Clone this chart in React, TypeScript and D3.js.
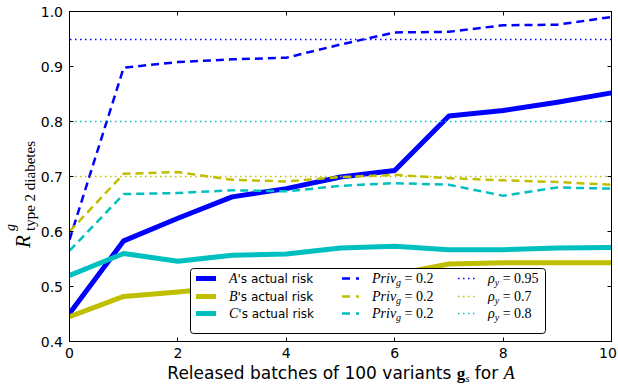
import React from "react";
import * as d3 from "d3";

// released batches (x)
const batches = [0, 1, 2, 3, 4, 5, 6, 7, 8, 9, 10];

// actual risk of each relative
const riskA = [0.451, 0.583, 0.624, 0.663, 0.678, 0.699, 0.711, 0.81, 0.82, 0.835, 0.852];
const riskB = [0.445, 0.482, 0.49, 0.5, 0.507, 0.515, 0.522, 0.541, 0.543, 0.543, 0.543];
const riskC = [0.52, 0.56, 0.546, 0.557, 0.559, 0.57, 0.573, 0.567, 0.567, 0.57, 0.571];

// privacy curves (Priv_g = 0.2)
const privA = [0.585, 0.898, 0.908, 0.913, 0.916, 0.94, 0.962, 0.963, 0.975, 0.976, 0.99];
const privB = [0.6, 0.705, 0.708, 0.694, 0.691, 0.699, 0.703, 0.697, 0.693, 0.69, 0.685];
const privC = [0.565, 0.668, 0.67, 0.675, 0.673, 0.683, 0.688, 0.685, 0.665, 0.68, 0.678];

// rho_y levels
const rhoLevels = [0.95, 0.7, 0.8];
const rhoLabels = ["0.95", "0.7", "0.8"];

const xTicks = [0, 2, 4, 6, 8, 10];
const yTicks = [0.4, 0.5, 0.6, 0.7, 0.8, 0.9, 1.0];

const colors = ["#0000ff", "#bfbf00", "#00bfbf"];
const names = ["A", "B", "C"];

const W = 618;
const H = 388;
const left = 69.5, right = 611.5, top = 11.5, bottom = 341.5;

const serif = "'Liberation Serif', 'DejaVu Serif', serif";
const sans = "'DejaVu Sans', sans-serif";

export default function App() {
  const x = d3.scaleLinear().domain([0, 10]).range([left, right]);
  const y = d3.scaleLinear().domain([0.4, 1.0]).range([bottom, top]);
  const line = d3
    .line<number>()
    .x((d, i) => x(batches[i]))
    .y((d) => y(d));
  const snap = (v: number) => Math.round(v - 0.5) + 0.5;

  const risks = [riskA, riskB, riskC];
  const privs = [privA, privB, privC];

  // legend layout
  const legRows = [278.5, 296.5, 313.5];
  const colX = [196, 342, 458];
  const handleLen = 20;

  return (
    <svg
      width={W}
      height={H}
      style={{ position: "absolute", left: 0, top: 0, background: "#fff" }}
    >
      <defs>
        <clipPath id="plot">
          <rect x={left} y={top} width={right - left} height={bottom - top} />
        </clipPath>
      </defs>
      <rect x={0} y={0} width={W} height={H} fill="#fff" />

      <g clipPath="url(#plot)" fill="none">
        {risks.map((r, i) => (
          <path key={"r" + i} d={line(r) || ""} stroke={colors[i]} strokeWidth={5} strokeLinejoin="round" />
        ))}
        {privs.map((r, i) => (
          <path key={"p" + i} d={line(r) || ""} stroke={colors[i]} strokeWidth={2.5} strokeDasharray="8,5" />
        ))}
        {rhoLevels.map((v, i) => (
          <line key={"h" + i} x1={left + 0.5} x2={right} y1={snap(y(v))} y2={snap(y(v))} stroke={colors[i]} strokeWidth={1.4} strokeDasharray="1.5,3.5" />
        ))}
      </g>

      {/* frame and ticks */}
      <rect x={left} y={top} width={right - left} height={bottom - top} fill="none" stroke="#000" strokeWidth={1} />
      {xTicks.map((t) => (
        <g key={"xt" + t}>
          <line x1={snap(x(t))} x2={snap(x(t))} y1={bottom} y2={bottom - 4} stroke="#000" />
          <line x1={snap(x(t))} x2={snap(x(t))} y1={top} y2={top + 4} stroke="#000" />
          <text x={Math.min(x(t), W - 10)} y={358} textAnchor="middle" fontFamily={sans} fontSize={14}>
            {t}
          </text>
        </g>
      ))}
      {yTicks.map((t) => (
        <g key={"yt" + t}>
          <line x1={left} x2={left + 4} y1={snap(y(t))} y2={snap(y(t))} stroke="#000" />
          <line x1={right} x2={right - 4} y1={snap(y(t))} y2={snap(y(t))} stroke="#000" />
          <text x={63} y={y(t) + 5} textAnchor="end" fontFamily={sans} fontSize={14}>
            {t.toFixed(1)}
          </text>
        </g>
      ))}

      {/* legend */}
      <rect x={190.5} y={268.5} width={355} height={65} rx={3} fill="#fff" stroke="#000" strokeWidth={1} />
      {names.map((n, i) => (
        <g key={"lg" + i}>
          <line x1={colX[0]} x2={colX[0] + handleLen} y1={legRows[i]} y2={legRows[i]} stroke={colors[i]} strokeWidth={5} />
          <text x={229} y={legRows[i] + 4} fontSize={12} fontFamily={sans}>
            <tspan fontFamily={serif} fontStyle="italic" fontSize={14}>{n}</tspan>
            's actual risk
          </text>
          <line x1={colX[1]} x2={colX[1] + handleLen} y1={legRows[i]} y2={legRows[i]} stroke={colors[i]} strokeWidth={2.5} strokeDasharray="8,6,3,20" />
          <text x={372} y={legRows[i] + 4} fontSize={14} fontFamily={serif}>
            <tspan fontStyle="italic">Priv</tspan>
            <tspan fontStyle="italic" fontSize={10} dy={3}>g</tspan>
            <tspan dy={-3}>{" = 0.2"}</tspan>
          </text>
          <line x1={colX[2]} x2={colX[2] + handleLen} y1={legRows[i]} y2={legRows[i]} stroke={colors[i]} strokeWidth={1.4} strokeDasharray="1.5,3.5" />
          <text x={488} y={legRows[i] + 4} fontSize={14} fontFamily={serif}>
            <tspan fontStyle="italic">ρ</tspan>
            <tspan fontStyle="italic" fontSize={10} dy={3}>y</tspan>
            <tspan dy={-3}>{" = " + rhoLabels[i]}</tspan>
          </text>
        </g>
      ))}

      {/* x label */}
      <text x={341} y={379} textAnchor="middle" fontFamily={sans} fontSize={17}>
        Released batches of 100 variants{" "}
        <tspan fontFamily={serif} fontWeight="bold">g</tspan>
        <tspan fontFamily={serif} fontStyle="italic" fontSize={11} dy={3}>s</tspan>
        <tspan dy={-3}>{" for "}</tspan>
        <tspan fontFamily={serif} fontStyle="italic" fontSize={18}>A</tspan>
      </text>

      {/* y label */}
      <g transform="translate(30,248) rotate(-90)" fontFamily={serif}>
        <text x={0} y={0} fontSize={21} fontStyle="italic">R</text>
        <text x={17} y={-15} fontSize={14} fontStyle="italic">g</text>
        <text x={17} y={5} fontSize={14} textLength={90} lengthAdjust="spacingAndGlyphs">
          type 2 diabetes
        </text>
      </g>
    </svg>
  );
}
